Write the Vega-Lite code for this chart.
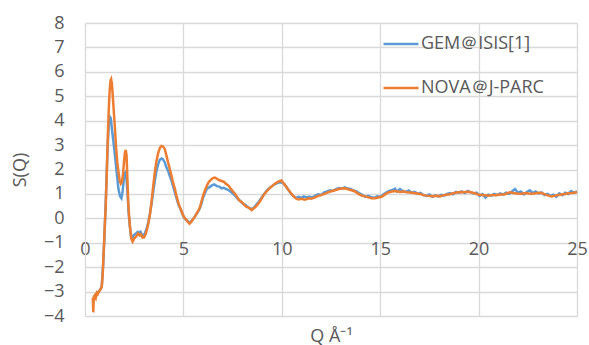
{
  "$schema": "https://vega.github.io/schema/vega-lite/v6.json",
  "autosize": {"type": "none"},
  "width": 492,
  "height": 293,
  "padding": {"left": 85, "top": 23, "right": 12, "bottom": 29},
  "background": "white",
  "config": {
    "view": {"stroke": null},
    "font": "Open Sans",
    "axis": {"labelColor": "#595959", "titleColor": "#595959", "labelFontSize": 18, "titleFontSize": 18, "titleFontWeight": "normal", "gridColor": "#d9d9d9", "gridWidth": 1.3, "domainColor": "#d9d9d9", "ticks": false},
    "legend": {"labelColor": "#595959", "labelFontSize": 18}
  },
  "datasets": {
    "gem": [
      {"Q": 0.45, "S": -3.2}, {"Q": 0.55, "S": -3.2}, {"Q": 0.65, "S": -3.05}, {"Q": 0.75, "S": -2.95}, {"Q": 0.85, "S": -2.8},
      {"Q": 0.93, "S": -1.8}, {"Q": 1.01, "S": -0.3}, {"Q": 1.08, "S": 1.3}, {"Q": 1.15, "S": 2.9}, {"Q": 1.21, "S": 3.9},
      {"Q": 1.27, "S": 4.15}, {"Q": 1.31, "S": 4.1}, {"Q": 1.36, "S": 3.7}, {"Q": 1.42, "S": 3.3}, {"Q": 1.48, "S": 2.9},
      {"Q": 1.55, "S": 2.35}, {"Q": 1.62, "S": 1.8}, {"Q": 1.7, "S": 1.2}, {"Q": 1.78, "S": 0.9}, {"Q": 1.85, "S": 0.82},
      {"Q": 1.91, "S": 1.1}, {"Q": 1.97, "S": 1.6}, {"Q": 2.02, "S": 1.85}, {"Q": 2.07, "S": 1.9}, {"Q": 2.12, "S": 1.5},
      {"Q": 2.17, "S": 0.9}, {"Q": 2.22, "S": 0.2}, {"Q": 2.28, "S": -0.35}, {"Q": 2.34, "S": -0.75}, {"Q": 2.4, "S": -0.82},
      {"Q": 2.46, "S": -0.7}, {"Q": 2.53, "S": -0.65}, {"Q": 2.6, "S": -0.62}, {"Q": 2.68, "S": -0.55}, {"Q": 2.75, "S": -0.58},
      {"Q": 2.82, "S": -0.55}, {"Q": 2.9, "S": -0.68}, {"Q": 2.98, "S": -0.7}, {"Q": 3.06, "S": -0.58}, {"Q": 3.14, "S": -0.4},
      {"Q": 3.22, "S": -0.15}, {"Q": 3.3, "S": 0.2}, {"Q": 3.38, "S": 0.6}, {"Q": 3.46, "S": 1.05}, {"Q": 3.54, "S": 1.5},
      {"Q": 3.62, "S": 1.9}, {"Q": 3.71, "S": 2.2}, {"Q": 3.8, "S": 2.4}, {"Q": 3.88, "S": 2.45}, {"Q": 3.96, "S": 2.42},
      {"Q": 4.05, "S": 2.3}, {"Q": 4.13, "S": 2.1}, {"Q": 4.22, "S": 1.95}, {"Q": 4.3, "S": 1.75}, {"Q": 4.39, "S": 1.56},
      {"Q": 4.48, "S": 1.3}, {"Q": 4.57, "S": 1.05}, {"Q": 4.66, "S": 0.8}, {"Q": 4.75, "S": 0.55}, {"Q": 4.84, "S": 0.4},
      {"Q": 4.93, "S": 0.22}, {"Q": 5.02, "S": 0.05}, {"Q": 5.12, "S": -0.05}, {"Q": 5.22, "S": -0.12}, {"Q": 5.31, "S": -0.18},
      {"Q": 5.4, "S": -0.12}, {"Q": 5.5, "S": -0.02}, {"Q": 5.6, "S": 0.1}, {"Q": 5.7, "S": 0.22}, {"Q": 5.8, "S": 0.35},
      {"Q": 5.9, "S": 0.55}, {"Q": 6.0, "S": 0.85}, {"Q": 6.1, "S": 1.05}, {"Q": 6.2, "S": 1.22}, {"Q": 6.33, "S": 1.28},
      {"Q": 6.45, "S": 1.35}, {"Q": 6.57, "S": 1.39}, {"Q": 6.7, "S": 1.32}, {"Q": 6.82, "S": 1.3}, {"Q": 6.94, "S": 1.23},
      {"Q": 7.05, "S": 1.25}, {"Q": 7.18, "S": 1.2}, {"Q": 7.3, "S": 1.15}, {"Q": 7.42, "S": 1.08}, {"Q": 7.55, "S": 0.98},
      {"Q": 7.66, "S": 0.9}, {"Q": 7.78, "S": 0.78}, {"Q": 7.9, "S": 0.7}, {"Q": 8.02, "S": 0.6}, {"Q": 8.15, "S": 0.55},
      {"Q": 8.28, "S": 0.45}, {"Q": 8.4, "S": 0.4}, {"Q": 8.5, "S": 0.38}, {"Q": 8.6, "S": 0.45}, {"Q": 8.72, "S": 0.58},
      {"Q": 8.85, "S": 0.7}, {"Q": 8.98, "S": 0.85}, {"Q": 9.1, "S": 1.0}, {"Q": 9.22, "S": 1.12}, {"Q": 9.35, "S": 1.22},
      {"Q": 9.48, "S": 1.3}, {"Q": 9.6, "S": 1.38}, {"Q": 9.72, "S": 1.42}, {"Q": 9.85, "S": 1.47}, {"Q": 9.97, "S": 1.48},
      {"Q": 10.1, "S": 1.42}, {"Q": 10.22, "S": 1.3}, {"Q": 10.35, "S": 1.15}, {"Q": 10.48, "S": 1.0}, {"Q": 10.6, "S": 0.9},
      {"Q": 10.72, "S": 0.84}, {"Q": 10.85, "S": 0.88}, {"Q": 11.0, "S": 0.84}, {"Q": 11.12, "S": 0.9}, {"Q": 11.25, "S": 0.86},
      {"Q": 11.4, "S": 0.88}, {"Q": 11.55, "S": 0.85}, {"Q": 11.7, "S": 0.93}, {"Q": 11.85, "S": 0.98}, {"Q": 12.0, "S": 0.96},
      {"Q": 12.15, "S": 1.06}, {"Q": 12.3, "S": 1.1}, {"Q": 12.45, "S": 1.15}, {"Q": 12.6, "S": 1.12}, {"Q": 12.75, "S": 1.2},
      {"Q": 12.9, "S": 1.24}, {"Q": 13.05, "S": 1.22}, {"Q": 13.2, "S": 1.27}, {"Q": 13.35, "S": 1.22}, {"Q": 13.5, "S": 1.2},
      {"Q": 13.65, "S": 1.14}, {"Q": 13.8, "S": 1.1}, {"Q": 13.95, "S": 1.02}, {"Q": 14.1, "S": 0.95}, {"Q": 14.25, "S": 0.88},
      {"Q": 14.4, "S": 0.92}, {"Q": 14.55, "S": 0.86}, {"Q": 14.7, "S": 0.84}, {"Q": 14.85, "S": 0.9}, {"Q": 15.0, "S": 0.88},
      {"Q": 15.15, "S": 0.98}, {"Q": 15.3, "S": 1.05}, {"Q": 15.45, "S": 1.12}, {"Q": 15.6, "S": 1.15}, {"Q": 15.75, "S": 1.22},
      {"Q": 15.85, "S": 1.1}, {"Q": 16.0, "S": 1.2}, {"Q": 16.15, "S": 1.12}, {"Q": 16.3, "S": 1.08}, {"Q": 16.45, "S": 1.14},
      {"Q": 16.6, "S": 1.05}, {"Q": 16.75, "S": 1.08}, {"Q": 16.9, "S": 1.0}, {"Q": 17.05, "S": 1.04}, {"Q": 17.2, "S": 0.95},
      {"Q": 17.35, "S": 0.92}, {"Q": 17.5, "S": 0.98}, {"Q": 17.65, "S": 0.88}, {"Q": 17.8, "S": 0.94}, {"Q": 17.95, "S": 0.9},
      {"Q": 18.1, "S": 0.96}, {"Q": 18.25, "S": 0.93}, {"Q": 18.4, "S": 1.0}, {"Q": 18.55, "S": 1.03}, {"Q": 18.7, "S": 0.98},
      {"Q": 18.85, "S": 1.08}, {"Q": 19.0, "S": 1.05}, {"Q": 19.15, "S": 1.1}, {"Q": 19.3, "S": 1.04}, {"Q": 19.45, "S": 1.12},
      {"Q": 19.6, "S": 1.06}, {"Q": 19.75, "S": 1.02}, {"Q": 19.9, "S": 1.05}, {"Q": 20.05, "S": 0.92}, {"Q": 20.2, "S": 0.99},
      {"Q": 20.35, "S": 0.85}, {"Q": 20.5, "S": 0.97}, {"Q": 20.65, "S": 0.93}, {"Q": 20.8, "S": 1.0}, {"Q": 20.95, "S": 0.95},
      {"Q": 21.1, "S": 1.02}, {"Q": 21.25, "S": 0.97}, {"Q": 21.4, "S": 1.05}, {"Q": 21.55, "S": 1.0}, {"Q": 21.7, "S": 1.1},
      {"Q": 21.85, "S": 1.2}, {"Q": 22.0, "S": 1.05}, {"Q": 22.15, "S": 1.1}, {"Q": 22.3, "S": 0.98}, {"Q": 22.45, "S": 1.08},
      {"Q": 22.6, "S": 1.15}, {"Q": 22.75, "S": 1.03}, {"Q": 22.9, "S": 1.1}, {"Q": 23.05, "S": 1.02}, {"Q": 23.2, "S": 1.06},
      {"Q": 23.35, "S": 0.95}, {"Q": 23.5, "S": 1.0}, {"Q": 23.65, "S": 0.92}, {"Q": 23.8, "S": 0.97}, {"Q": 23.95, "S": 0.88},
      {"Q": 24.1, "S": 1.02}, {"Q": 24.25, "S": 0.95}, {"Q": 24.4, "S": 1.05}, {"Q": 24.55, "S": 1.0}, {"Q": 24.7, "S": 1.12},
      {"Q": 24.85, "S": 1.05}, {"Q": 25.0, "S": 1.1}
    ],
    "nova": [
      {"Q": 0.4, "S": -3.25}, {"Q": 0.42, "S": -3.85}, {"Q": 0.45, "S": -3.2}, {"Q": 0.5, "S": -3.15}, {"Q": 0.55, "S": -3.25},
      {"Q": 0.6, "S": -3.05}, {"Q": 0.65, "S": -3.1}, {"Q": 0.7, "S": -3.0}, {"Q": 0.75, "S": -2.95}, {"Q": 0.8, "S": -2.9},
      {"Q": 0.85, "S": -2.8}, {"Q": 0.9, "S": -2.3}, {"Q": 0.93, "S": -1.7}, {"Q": 0.97, "S": -1.0}, {"Q": 1.01, "S": -0.2},
      {"Q": 1.05, "S": 0.4}, {"Q": 1.1, "S": 1.7}, {"Q": 1.15, "S": 3.1}, {"Q": 1.2, "S": 4.3}, {"Q": 1.25, "S": 5.2},
      {"Q": 1.3, "S": 5.65}, {"Q": 1.33, "S": 5.7}, {"Q": 1.37, "S": 5.5}, {"Q": 1.42, "S": 4.9}, {"Q": 1.47, "S": 4.3},
      {"Q": 1.52, "S": 3.7}, {"Q": 1.58, "S": 2.9}, {"Q": 1.64, "S": 2.3}, {"Q": 1.7, "S": 1.9}, {"Q": 1.76, "S": 1.55},
      {"Q": 1.82, "S": 1.42}, {"Q": 1.88, "S": 1.5}, {"Q": 1.93, "S": 1.8}, {"Q": 1.98, "S": 2.3}, {"Q": 2.03, "S": 2.7},
      {"Q": 2.07, "S": 2.8}, {"Q": 2.11, "S": 2.6}, {"Q": 2.16, "S": 1.5}, {"Q": 2.2, "S": 0.6}, {"Q": 2.25, "S": 0.0},
      {"Q": 2.3, "S": -0.45}, {"Q": 2.36, "S": -0.85}, {"Q": 2.42, "S": -0.95}, {"Q": 2.48, "S": -0.85}, {"Q": 2.55, "S": -0.78},
      {"Q": 2.62, "S": -0.72}, {"Q": 2.7, "S": -0.62}, {"Q": 2.78, "S": -0.7}, {"Q": 2.85, "S": -0.65}, {"Q": 2.92, "S": -0.78},
      {"Q": 3.0, "S": -0.78}, {"Q": 3.08, "S": -0.65}, {"Q": 3.15, "S": -0.45}, {"Q": 3.22, "S": -0.2}, {"Q": 3.3, "S": 0.15},
      {"Q": 3.37, "S": 0.6}, {"Q": 3.45, "S": 1.2}, {"Q": 3.54, "S": 1.83}, {"Q": 3.62, "S": 2.3}, {"Q": 3.71, "S": 2.65},
      {"Q": 3.8, "S": 2.88}, {"Q": 3.88, "S": 2.96}, {"Q": 3.96, "S": 2.94}, {"Q": 4.05, "S": 2.85}, {"Q": 4.13, "S": 2.6},
      {"Q": 4.22, "S": 2.3}, {"Q": 4.3, "S": 2.05}, {"Q": 4.39, "S": 1.76}, {"Q": 4.48, "S": 1.45}, {"Q": 4.57, "S": 1.2},
      {"Q": 4.64, "S": 0.94}, {"Q": 4.72, "S": 0.7}, {"Q": 4.8, "S": 0.5}, {"Q": 4.89, "S": 0.33}, {"Q": 4.97, "S": 0.15},
      {"Q": 5.06, "S": 0.02}, {"Q": 5.15, "S": -0.06}, {"Q": 5.23, "S": -0.15}, {"Q": 5.31, "S": -0.22}, {"Q": 5.4, "S": -0.15},
      {"Q": 5.48, "S": -0.05}, {"Q": 5.57, "S": 0.05}, {"Q": 5.66, "S": 0.18}, {"Q": 5.75, "S": 0.3}, {"Q": 5.84, "S": 0.45},
      {"Q": 5.92, "S": 0.7}, {"Q": 6.01, "S": 0.95}, {"Q": 6.1, "S": 1.15}, {"Q": 6.2, "S": 1.35}, {"Q": 6.3, "S": 1.5},
      {"Q": 6.4, "S": 1.58}, {"Q": 6.5, "S": 1.65}, {"Q": 6.6, "S": 1.67}, {"Q": 6.7, "S": 1.62}, {"Q": 6.8, "S": 1.57},
      {"Q": 6.94, "S": 1.53}, {"Q": 7.05, "S": 1.5}, {"Q": 7.15, "S": 1.42}, {"Q": 7.28, "S": 1.35}, {"Q": 7.4, "S": 1.22},
      {"Q": 7.52, "S": 1.1}, {"Q": 7.62, "S": 1.01}, {"Q": 7.75, "S": 0.85}, {"Q": 7.86, "S": 0.72}, {"Q": 7.96, "S": 0.67},
      {"Q": 8.1, "S": 0.55}, {"Q": 8.2, "S": 0.47}, {"Q": 8.3, "S": 0.45}, {"Q": 8.4, "S": 0.38}, {"Q": 8.47, "S": 0.34},
      {"Q": 8.55, "S": 0.4}, {"Q": 8.65, "S": 0.45}, {"Q": 8.75, "S": 0.55}, {"Q": 8.85, "S": 0.65}, {"Q": 8.95, "S": 0.78},
      {"Q": 9.05, "S": 0.92}, {"Q": 9.15, "S": 1.03}, {"Q": 9.28, "S": 1.15}, {"Q": 9.4, "S": 1.25}, {"Q": 9.52, "S": 1.33},
      {"Q": 9.65, "S": 1.42}, {"Q": 9.78, "S": 1.48}, {"Q": 9.9, "S": 1.53}, {"Q": 9.98, "S": 1.55}, {"Q": 10.08, "S": 1.45},
      {"Q": 10.2, "S": 1.32}, {"Q": 10.32, "S": 1.18}, {"Q": 10.45, "S": 1.05}, {"Q": 10.58, "S": 0.92}, {"Q": 10.7, "S": 0.82},
      {"Q": 10.84, "S": 0.77}, {"Q": 11.0, "S": 0.8}, {"Q": 11.18, "S": 0.76}, {"Q": 11.35, "S": 0.82}, {"Q": 11.5, "S": 0.8},
      {"Q": 11.69, "S": 0.86}, {"Q": 11.85, "S": 0.92}, {"Q": 12.0, "S": 0.95}, {"Q": 12.2, "S": 1.01}, {"Q": 12.4, "S": 1.08},
      {"Q": 12.55, "S": 1.12}, {"Q": 12.7, "S": 1.15}, {"Q": 12.9, "S": 1.2}, {"Q": 13.05, "S": 1.22}, {"Q": 13.21, "S": 1.23},
      {"Q": 13.4, "S": 1.18}, {"Q": 13.55, "S": 1.15}, {"Q": 13.72, "S": 1.1}, {"Q": 13.9, "S": 1.0}, {"Q": 14.05, "S": 0.93},
      {"Q": 14.23, "S": 0.9}, {"Q": 14.4, "S": 0.86}, {"Q": 14.55, "S": 0.82}, {"Q": 14.74, "S": 0.82}, {"Q": 14.9, "S": 0.85},
      {"Q": 15.08, "S": 0.88}, {"Q": 15.25, "S": 0.98}, {"Q": 15.41, "S": 1.06}, {"Q": 15.6, "S": 1.1}, {"Q": 15.8, "S": 1.12},
      {"Q": 16.0, "S": 1.08}, {"Q": 16.2, "S": 1.1}, {"Q": 16.35, "S": 1.07}, {"Q": 16.51, "S": 1.06}, {"Q": 16.7, "S": 1.04},
      {"Q": 16.85, "S": 1.02}, {"Q": 17.02, "S": 1.0}, {"Q": 17.2, "S": 0.95}, {"Q": 17.35, "S": 0.93}, {"Q": 17.53, "S": 0.91},
      {"Q": 17.7, "S": 0.9}, {"Q": 17.85, "S": 0.92}, {"Q": 18.04, "S": 0.9}, {"Q": 18.2, "S": 0.94}, {"Q": 18.38, "S": 0.97},
      {"Q": 18.55, "S": 0.99}, {"Q": 18.7, "S": 1.03}, {"Q": 18.9, "S": 1.06}, {"Q": 19.05, "S": 1.08}, {"Q": 19.25, "S": 1.07},
      {"Q": 19.4, "S": 1.09}, {"Q": 19.56, "S": 1.08}, {"Q": 19.75, "S": 1.04}, {"Q": 19.97, "S": 0.98}, {"Q": 20.15, "S": 0.96},
      {"Q": 20.33, "S": 0.95}, {"Q": 20.5, "S": 0.93}, {"Q": 20.7, "S": 0.96}, {"Q": 20.83, "S": 0.95}, {"Q": 21.0, "S": 0.97},
      {"Q": 21.15, "S": 0.98}, {"Q": 21.34, "S": 0.99}, {"Q": 21.5, "S": 1.04}, {"Q": 21.6, "S": 1.07}, {"Q": 21.76, "S": 1.04},
      {"Q": 21.95, "S": 1.02}, {"Q": 22.19, "S": 1.01}, {"Q": 22.4, "S": 1.04}, {"Q": 22.55, "S": 1.02}, {"Q": 22.7, "S": 1.01},
      {"Q": 22.9, "S": 1.03}, {"Q": 23.05, "S": 1.05}, {"Q": 23.2, "S": 1.04}, {"Q": 23.4, "S": 0.97}, {"Q": 23.55, "S": 0.93},
      {"Q": 23.71, "S": 0.9}, {"Q": 23.9, "S": 0.93}, {"Q": 24.05, "S": 0.96}, {"Q": 24.22, "S": 0.98}, {"Q": 24.4, "S": 1.0},
      {"Q": 24.55, "S": 1.03}, {"Q": 24.73, "S": 1.04}, {"Q": 24.9, "S": 1.06}, {"Q": 25.0, "S": 1.08}
    ]
  },
  "encoding": {
    "x": {"field": "Q", "type": "quantitative", "scale": {"domain": [0, 25], "nice": false},
      "axis": {"values": [0, 5, 10, 15, 20, 25], "grid": true, "labelPadding": -76, "title": "Q Å⁻¹", "titleY": 25, "titleBaseline": "alphabetic", "labelFlush": false}},
    "y": {"field": "S", "type": "quantitative", "scale": {"domain": [-4, 8], "nice": false, "zero": false},
      "axis": {"values": [-4, -3, -2, -1, 0, 1, 2, 3, 4, 5, 6, 7, 8], "grid": true, "labelPadding": 21, "title": "S(Q)", "titlePadding": 14}}
  },
  "layer": [
    {"mark": {"type": "rule", "color": "#bfbfbf", "strokeWidth": 1.3}, "encoding": {"y": {"datum": 0}, "x": null}},
    {"data": {"name": "gem"}, "mark": {"type": "line", "strokeWidth": 2.5, "interpolate": "linear"},
      "encoding": {"color": {"datum": "GEM＠ISIS[1]", "type": "nominal",
        "scale": {"domain": ["GEM＠ISIS[1]", "NOVA＠J-PARC"], "range": ["#5B9BD5", "#ED7D31"]},
        "legend": {"title": null, "orient": "none", "legendX": 297, "legendY": 2, "symbolType": "stroke", "symbolSize": 1225, "symbolStrokeWidth": 2.5, "labelOffset": 1, "rowPadding": 16}}}},
    {"data": {"name": "nova"}, "mark": {"type": "line", "strokeWidth": 2.5, "interpolate": "linear"},
      "encoding": {"color": {"datum": "NOVA＠J-PARC", "type": "nominal"}}}
  ]
}
